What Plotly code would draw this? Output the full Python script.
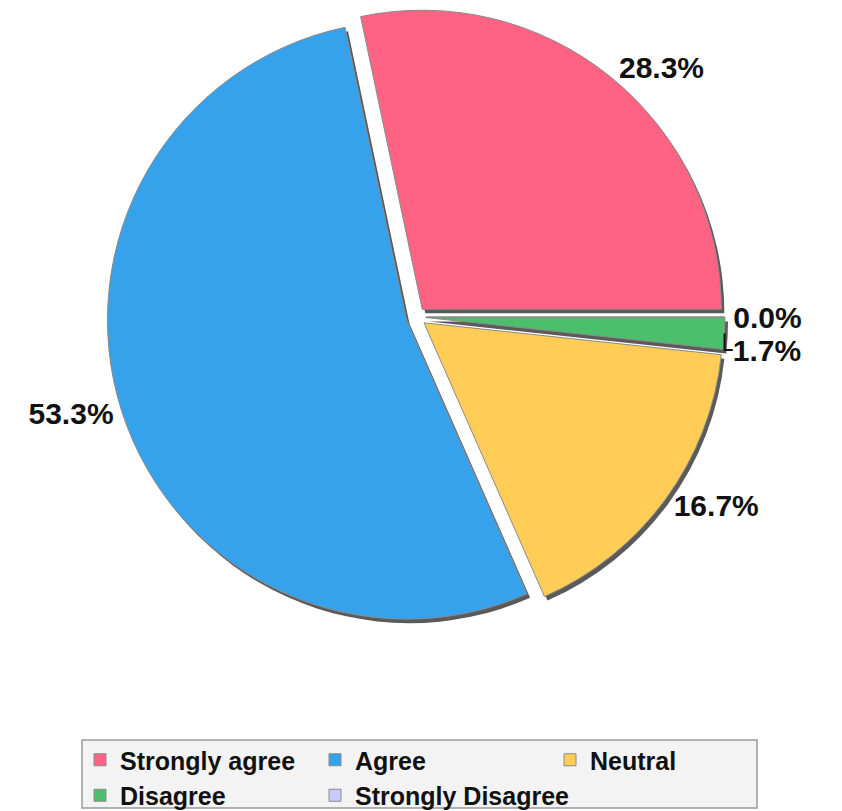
import plotly.graph_objects as go

labels = ["Strongly agree", "Agree", "Neutral", "Disagree", "Strongly Disagree"]
values = [28.3, 53.3, 16.7, 1.7, 0.0]
colors = ["#ff6384", "#36a2eb", "#ffcd56", "#4bbf6b", "#c9cbff"]
pulls = [0.033, 0.033, 0.033, 0.033, 0.033]

# first slice runs counterclockwise from 3 o'clock
rotation = 90 - 360 * values[0] / sum(values)

W, H = 842, 811
OFF = 8  # page body margin


def xp(x):
    return min(max((x - OFF) / W, 0), 1)


def yp(y):
    return min(max((H - (y - OFF)) / H, 0), 1)


cx, cy, half = 416, 317, 309
dom_x = [xp(cx - half), xp(cx + half)]
dom_y = [yp(cy + half), yp(cy - half)]
sx, sy = 3, 4
shadow_x = [xp(cx + sx - half), xp(cx + sx + half)]
shadow_y = [yp(cy + sy + half), yp(cy + sy - half)]

fig = go.Figure()
fig.add_trace(go.Pie(
    labels=labels, values=values, sort=False, direction="counterclockwise",
    rotation=rotation, pull=pulls, domain=dict(x=shadow_x, y=shadow_y),
    marker=dict(colors=["#5a5a5a"] * len(labels), line=dict(width=0)),
    textinfo="none", showlegend=False, hoverinfo="skip",
))
fig.add_trace(go.Pie(
    labels=labels, values=values, sort=False, direction="counterclockwise",
    rotation=rotation, pull=pulls, domain=dict(x=dom_x, y=dom_y),
    marker=dict(colors=colors, line=dict(color="#8a8a8a", width=1)),
    texttemplate="%{percent:.1%}", textposition="outside",
    textfont=dict(family="Liberation Sans, Arial, sans-serif", size=30, color="#111", weight="bold"),
    showlegend=True,
))

fig.add_shape(type="rect", xref="paper", yref="paper",
              x0=xp(82), x1=xp(757), y0=yp(808), y1=yp(740),
              fillcolor="#f3f3f3", line=dict(color="#9a9a9a", width=1.5), layer="below")

fig.update_layout(
    width=W, height=H,
    margin=dict(l=0, r=0, t=0, b=0, autoexpand=False),
    paper_bgcolor="white", plot_bgcolor="white",
    showlegend=True,
    legend=dict(
        orientation="h", x=xp(80), xanchor="left", y=yp(737), yanchor="top",
        bgcolor="rgba(0,0,0,0)", borderwidth=0,
        font=dict(family="Liberation Sans, Arial, sans-serif", size=25, color="#111", weight="bold"),
        entrywidth=190, entrywidthmode="pixels", traceorder="normal",
    ),
)

fig.write_html("out.html")
